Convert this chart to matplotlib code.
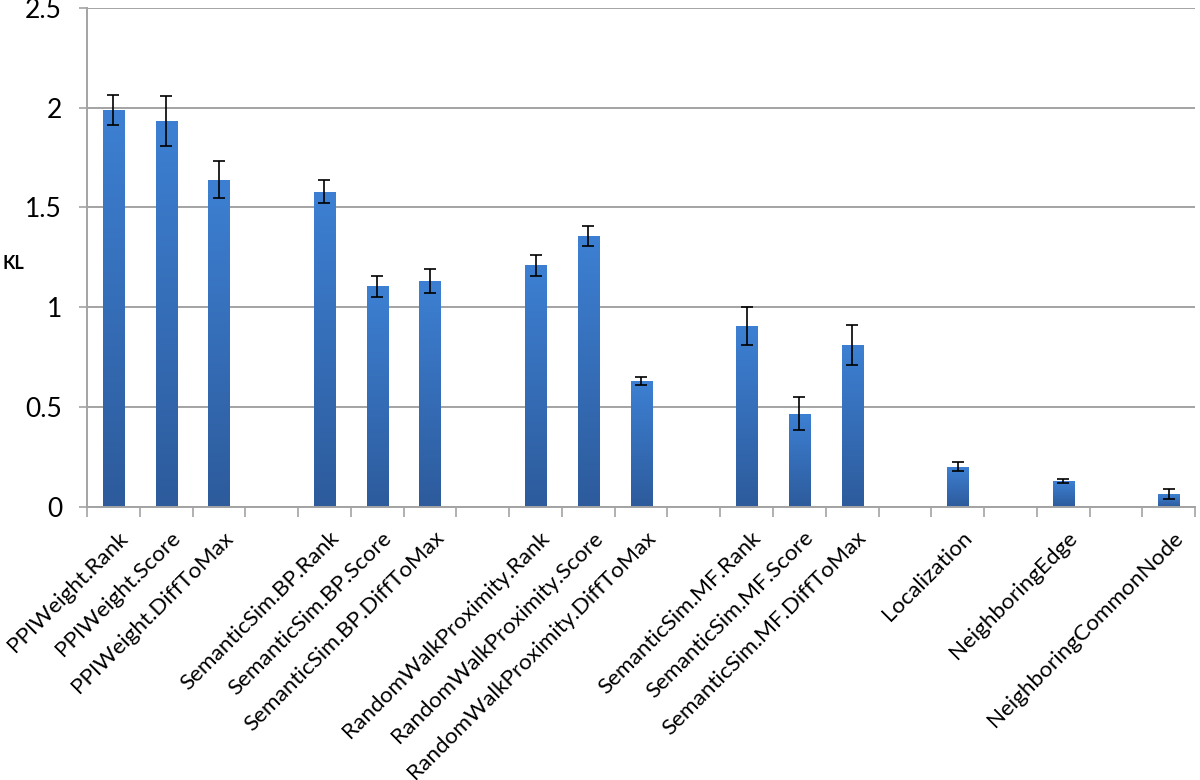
import numpy as np
import matplotlib
matplotlib.use("Agg")
from matplotlib import pyplot as plt
from matplotlib.colors import LinearSegmentedColormap
from matplotlib.transforms import ScaledTranslation

labels = ["PPIWeight.Rank", "PPIWeight.Score", "PPIWeight.DiffToMax", "",
          "SemanticSim.BP.Rank", "SemanticSim.BP.Score", "SemanticSim.BP.DiffToMax", "",
          "RandomWalkProximity.Rank", "RandomWalkProximity.Score", "RandomWalkProximity.DiffToMax", "",
          "SemanticSim.MF.Rank", "SemanticSim.MF.Score", "SemanticSim.MF.DiffToMax", "",
          "Localization", "", "NeighboringEdge", "", "NeighboringCommonNode"]
kl = [1.99, 1.935, 1.64, None,
      1.58, 1.105, 1.13, None,
      1.21, 1.355, 0.63, None,
      0.905, 0.467, 0.813, None,
      0.202, None, 0.13, None, 0.065]
err = [0.075, 0.125, 0.095, None,
       0.06, 0.052, 0.06, None,
       0.052, 0.05, 0.02, None,
       0.095, 0.082, 0.1, None,
       0.022, None, 0.01, None, 0.024]

plt.rcParams["font.family"] = ["Lato", "DejaVu Sans"]
fig = plt.figure(figsize=(12, 7.8), dpi=100)
ax = fig.add_axes([0.0725, 0.35, 0.9235, 0.64])

x = np.arange(len(labels))
idx = [i for i, v in enumerate(kl) if v is not None]
vals = [kl[i] for i in idx]
errs = [err[i] for i in idx]

bars = ax.bar(idx, vals, width=0.4, color="#3670b8", zorder=2, edgecolor="none")
# vertical gradient inside each bar, darker at the bottom
grad = LinearSegmentedColormap.from_list("g", ["#2d5b9c", "#3d80d3"])
gimg = np.linspace(0, 1, 256).reshape(-1, 1)
for b in bars:
    x0, y0 = b.get_x(), b.get_y()
    im = ax.imshow(gimg, cmap=grad, aspect="auto", origin="lower", zorder=2.5,
                   extent=[x0, x0 + b.get_width(), y0, y0 + b.get_height()])
    im.set_clip_path(b)

ax.errorbar(idx, vals, yerr=errs, fmt="none", ecolor="black", elinewidth=1.2,
            capsize=4.5, capthick=1.2, zorder=3)

ax.set_xlim(-0.5, len(labels) - 0.5)
ax.set_ylim(0, 2.5)
ax.set_yticks([0, 0.5, 1, 1.5, 2, 2.5])
ax.set_yticklabels(["0", "0.5", "1", "1.5", "2", "2.5"], fontsize=19)
ax.yaxis.grid(True, color="#a3a3a3", linewidth=1.4, zorder=0)
ax.set_axisbelow(True)

ax.set_xticks(np.arange(len(labels) + 1) - 0.5, minor=False)
ax.set_xticklabels([])
ax.tick_params(axis="x", direction="out", length=7, color="#a3a3a3", width=1.2)
ax.tick_params(axis="y", direction="out", length=6, color="#a3a3a3", width=1.2, pad=12)
ax.set_xticks(x, minor=True)
ax.set_xticklabels(labels, minor=True, rotation=45, ha="right", rotation_mode="anchor",
                   fontsize=16.2)
ax.tick_params(axis="x", which="minor", length=0, pad=15)
shift = ScaledTranslation(0.04, 0, fig.dpi_scale_trans)
for lab in ax.get_xticklabels(minor=True):
    lab.set_transform(lab.get_transform() + shift)

for side in ["top", "right"]:
    ax.spines[side].set_visible(False)
for side in ["left", "bottom"]:
    ax.spines[side].set_color("#a3a3a3")
    ax.spines[side].set_linewidth(1.4)

fig.text(0.011, 0.662, "KL", fontsize=13, fontweight="bold", ha="center", va="center")

fig.savefig("out.png", dpi=100)
